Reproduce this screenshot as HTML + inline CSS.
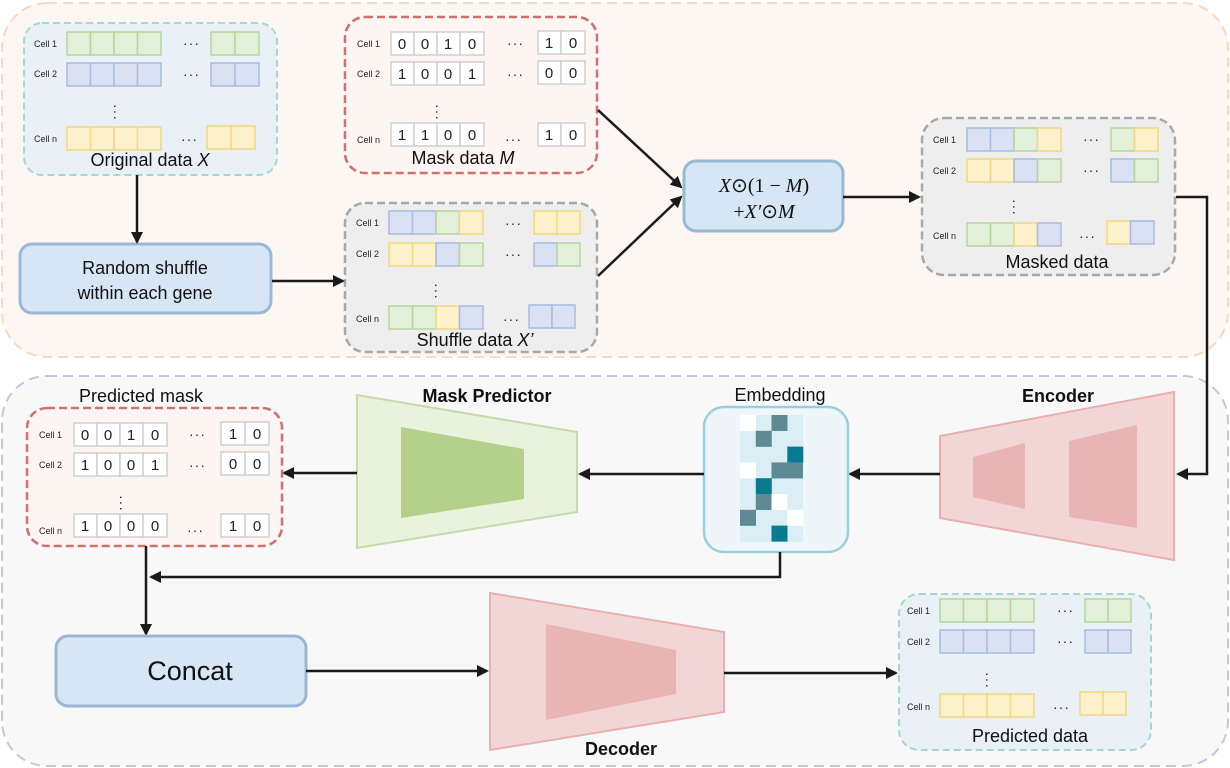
<!DOCTYPE html>
<html><head><meta charset="utf-8"><style>
html,body{margin:0;padding:0;background:#fff;}
svg{display:block;font-family:"Liberation Sans",sans-serif;}
.c{font-size:9px;fill:#222;}
.d{font-size:15px;fill:#222;text-anchor:middle;}
.l{font-size:18px;fill:#111;text-anchor:middle;}
.g rect{fill:#e2efd9;stroke:#b5d69a;stroke-width:1.5}
.b rect{fill:#d9e1f2;stroke:#a8bce0;stroke-width:1.5}
.y rect{fill:#fdf1cc;stroke:#f2d880;stroke-width:1.5}
.w rect{fill:#fff;stroke:#cfcfcf;stroke-width:1.5}
rect.G{fill:#e2efd9;stroke:#b5d69a;stroke-width:1.5}
rect.B{fill:#d9e1f2;stroke:#a8bce0;stroke-width:1.5}
rect.Y{fill:#fdf1cc;stroke:#f2d880;stroke-width:1.5}
.a{stroke:#1a1a1a;stroke-width:2.5;fill:none}
.dots{font-size:14px;fill:#222;letter-spacing:1px}
</style></head><body>
<svg width="1230" height="768" viewBox="0 0 1230 768">
<defs><marker id="ah" markerWidth="12" markerHeight="12" refX="10" refY="6" orient="auto" markerUnits="userSpaceOnUse"><path d="M0,0 L12,6 L0,12 Z" fill="#1a1a1a"/></marker></defs>
<rect x="2" y="3" width="1226" height="354" rx="45" fill="#fdf7f3" stroke="#f8d8c0" stroke-width="2" stroke-dasharray="10,6"/>
<rect x="2" y="376" width="1226" height="390" rx="45" fill="#f8f8f8" stroke="#c8c4dc" stroke-width="2" stroke-dasharray="10,6"/>

<rect x="24" y="23" width="253" height="152" rx="18" fill="#e9f1f6" stroke="#a6d8d0" stroke-width="2" stroke-dasharray="7,4"/>
<text class="c" x="34" y="47">Cell 1</text><text class="c" x="34" y="77">Cell 2</text><text class="c" x="34" y="142">Cell n</text>
<g class="g"><rect x="67" y="32" width="23.5" height="23"/><rect x="90.5" y="32" width="23.5" height="23"/><rect x="114" y="32" width="23.5" height="23"/><rect x="137.5" y="32" width="23.5" height="23"/><rect x="211" y="32" width="24" height="23"/><rect x="235" y="32" width="24" height="23"/></g>
<g class="b"><rect x="67" y="63" width="23.5" height="23"/><rect x="90.5" y="63" width="23.5" height="23"/><rect x="114" y="63" width="23.5" height="23"/><rect x="137.5" y="63" width="23.5" height="23"/><rect x="211" y="63" width="24" height="23"/><rect x="235" y="63" width="24" height="23"/></g>
<g class="y"><rect x="67" y="127" width="23.5" height="23"/><rect x="90.5" y="127" width="23.5" height="23"/><rect x="114" y="127" width="23.5" height="23"/><rect x="137.5" y="127" width="23.5" height="23"/><rect x="207" y="126" width="24" height="23"/><rect x="231" y="126" width="24" height="23"/></g>
<text class="dots" x="183" y="48">···</text><text class="dots" x="183" y="79">···</text><text class="dots" x="181" y="144">···</text>
<text class="dots" x="111" y="112" transform="rotate(90 115 108)">···</text>
<text class="l" x="150" y="166">Original data <tspan font-style="italic">X</tspan></text>

<rect x="345" y="17" width="252" height="156" rx="20" fill="#fdf5f2" stroke="#d07070" stroke-width="2.5" stroke-dasharray="8,4"/>
<text class="c" x="357" y="47">Cell 1</text><text class="c" x="357" y="77">Cell 2</text><text class="c" x="357" y="143">Cell n</text>
<g class="w"><rect x="391" y="32" width="23" height="23"/><rect x="414" y="32" width="23" height="23"/><rect x="437" y="32" width="23" height="23"/><rect x="460" y="32" width="24" height="23"/><rect x="538" y="31" width="23" height="23"/><rect x="561" y="31" width="24" height="23"/>
<rect x="391" y="62" width="23" height="23"/><rect x="414" y="62" width="23" height="23"/><rect x="437" y="62" width="23" height="23"/><rect x="460" y="62" width="24" height="23"/><rect x="538" y="61" width="23" height="23"/><rect x="561" y="61" width="24" height="23"/>
<rect x="391" y="123" width="23" height="23"/><rect x="414" y="123" width="23" height="23"/><rect x="437" y="123" width="23" height="23"/><rect x="460" y="123" width="24" height="23"/><rect x="538" y="123" width="23" height="23"/><rect x="561" y="123" width="24" height="23"/></g>
<text class="d" x="402" y="49">0</text><text class="d" x="425" y="49">0</text><text class="d" x="448" y="49">1</text><text class="d" x="472" y="49">0</text><text class="d" x="549" y="48">1</text><text class="d" x="573" y="48">0</text>
<text class="d" x="402" y="79">1</text><text class="d" x="425" y="79">0</text><text class="d" x="448" y="79">0</text><text class="d" x="472" y="79">1</text><text class="d" x="549" y="78">0</text><text class="d" x="573" y="78">0</text>
<text class="d" x="402" y="140">1</text><text class="d" x="425" y="140">1</text><text class="d" x="448" y="140">0</text><text class="d" x="472" y="140">0</text><text class="d" x="549" y="140">1</text><text class="d" x="573" y="140">0</text>
<text class="dots" x="507" y="48">···</text><text class="dots" x="507" y="79">···</text><text class="dots" x="505" y="144">···</text>
<text class="dots" x="433" y="112" transform="rotate(90 437 108)">···</text>
<text class="l" x="463" y="164">Mask data <tspan font-style="italic">M</tspan></text>

<rect x="345" y="203" width="252" height="149" rx="20" fill="#eeeeee" stroke="#a8a8a8" stroke-width="2.5" stroke-dasharray="8,4"/>
<text class="c" x="356" y="226">Cell 1</text><text class="c" x="356" y="257">Cell 2</text><text class="c" x="356" y="322">Cell n</text>
<rect class="B" x="389" y="211" width="23.5" height="23"/><rect class="B" x="412.5" y="211" width="23.5" height="23"/><rect class="G" x="436" y="211" width="23.5" height="23"/><rect class="Y" x="459.5" y="211" width="23.5" height="23"/><rect class="Y" x="534" y="211" width="23" height="23"/><rect class="Y" x="557" y="211" width="23" height="23"/>
<rect class="Y" x="389" y="243" width="23.5" height="23"/><rect class="Y" x="412.5" y="243" width="23.5" height="23"/><rect class="B" x="436" y="243" width="23.5" height="23"/><rect class="G" x="459.5" y="243" width="23.5" height="23"/><rect class="B" x="534" y="243" width="23" height="23"/><rect class="G" x="557" y="243" width="23" height="23"/>
<rect class="G" x="389" y="306" width="23.5" height="23"/><rect class="G" x="412.5" y="306" width="23.5" height="23"/><rect class="Y" x="436" y="306" width="23.5" height="23"/><rect class="B" x="459.5" y="306" width="23.5" height="23"/><rect class="B" x="529" y="305" width="23" height="23"/><rect class="B" x="552" y="305" width="23" height="23"/>
<text class="dots" x="505" y="228">···</text><text class="dots" x="505" y="259">···</text><text class="dots" x="503" y="324">···</text>
<text class="dots" x="432" y="291" transform="rotate(90 436 287)">···</text>
<text class="l" x="475" y="346">Shuffle data <tspan font-style="italic">X’</tspan></text>

<rect x="20" y="244" width="251" height="69" rx="12" fill="#d6e6f4" stroke="#9ab8d6" stroke-width="3"/>
<text class="l" x="145" y="274">Random shuffle</text><text class="l" x="145" y="299">within each gene</text>
<line class="a" x1="137" y1="175" x2="137" y2="242" marker-end="url(#ah)"/>
<line class="a" x1="272" y1="281" x2="343" y2="281" marker-end="url(#ah)"/>
<line class="a" x1="598" y1="110" x2="681" y2="187" marker-end="url(#ah)"/>
<line class="a" x1="598" y1="276" x2="681" y2="197" marker-end="url(#ah)"/>

<rect x="684" y="161" width="159" height="70" rx="12" fill="#d6e6f4" stroke="#9ab8d6" stroke-width="3"/>
<text x="764" y="192" text-anchor="middle" font-family="Liberation Serif,serif" font-size="20" fill="#111"><tspan font-style="italic">X</tspan>⊙(1 − <tspan font-style="italic">M</tspan>)</text>
<text x="764" y="218" text-anchor="middle" font-family="Liberation Serif,serif" font-size="20" fill="#111">+<tspan font-style="italic">X′</tspan>⊙<tspan font-style="italic">M</tspan></text>
<line class="a" x1="843" y1="197" x2="919" y2="197" marker-end="url(#ah)"/>

<rect x="922" y="118" width="253" height="157" rx="22" fill="#eeeeee" stroke="#a8a8a8" stroke-width="2.5" stroke-dasharray="8,4"/>
<text class="c" x="933" y="143">Cell 1</text><text class="c" x="933" y="174">Cell 2</text><text class="c" x="933" y="239">Cell n</text>
<rect class="B" x="967" y="128" width="23.5" height="23"/><rect class="B" x="990.5" y="128" width="23.5" height="23"/><rect class="G" x="1014" y="128" width="23.5" height="23"/><rect class="Y" x="1037.5" y="128" width="23.5" height="23"/><rect class="G" x="1111" y="128" width="23.5" height="23"/><rect class="Y" x="1134.5" y="128" width="23.5" height="23"/>
<rect class="Y" x="967" y="159" width="23.5" height="23"/><rect class="Y" x="990.5" y="159" width="23.5" height="23"/><rect class="B" x="1014" y="159" width="23.5" height="23"/><rect class="G" x="1037.5" y="159" width="23.5" height="23"/><rect class="B" x="1111" y="159" width="23.5" height="23"/><rect class="G" x="1134.5" y="159" width="23.5" height="23"/>
<rect class="G" x="967" y="223" width="23.5" height="23"/><rect class="G" x="990.5" y="223" width="23.5" height="23"/><rect class="Y" x="1014" y="223" width="23.5" height="23"/><rect class="B" x="1037.5" y="223" width="23.5" height="23"/><rect class="Y" x="1107" y="221" width="23.5" height="23"/><rect class="B" x="1130.5" y="221" width="23.5" height="23"/>
<text class="dots" x="1083" y="144">···</text><text class="dots" x="1083" y="175">···</text><text class="dots" x="1079" y="241">···</text>
<text class="dots" x="1010" y="207" transform="rotate(90 1014 203)">···</text>
<text class="l" x="1057" y="268">Masked data</text>
<polyline class="a" points="1176,197 1207,197 1207,474 1178,474" marker-end="url(#ah)"/>

<polygon points="940,436 1174,392 1174,560 940,518" fill="#f2d6d6" stroke="#eab0b0" stroke-width="2"/>
<polygon points="973,457 1025,443 1025,509 973,497" fill="#e8b4b4"/>
<polygon points="1069,441 1137,425 1137,528 1069,517" fill="#e8b4b4"/>
<text x="1058" y="402" text-anchor="middle" font-weight="bold" font-size="18" fill="#111">Encoder</text>
<line class="a" x1="940" y1="474" x2="850" y2="474" marker-end="url(#ah)"/>

<rect x="704" y="407" width="144" height="145" rx="20" fill="#eef6fa" stroke="#9ad0dc" stroke-width="2.5"/>
<rect x="740" y="415" width="63" height="127" fill="#dbeef6"/>
<g>
<rect x="740" y="415" width="16" height="16" fill="#fff"/><rect x="771.5" y="415" width="16" height="16" fill="#5e8a94"/>
<rect x="755.8" y="430.8" width="16" height="16" fill="#5e8a94"/>
<rect x="787.3" y="446.6" width="16" height="16" fill="#0a7a90"/>
<rect x="740" y="462.4" width="16" height="16" fill="#fff"/><rect x="771.5" y="462.4" width="31.5" height="16" fill="#5e8a94"/>
<rect x="755.8" y="478.2" width="16" height="16" fill="#0a7a90"/>
<rect x="755.8" y="494" width="16" height="16" fill="#5e8a94"/><rect x="771.5" y="494" width="16" height="16" fill="#fff"/>
<rect x="740" y="509.8" width="16" height="16" fill="#5e8a94"/><rect x="787.3" y="509.8" width="16" height="16" fill="#fff"/>
<rect x="771.5" y="525.6" width="16" height="16" fill="#0a7a90"/>
</g>
<text x="780" y="401" text-anchor="middle" font-size="18" fill="#111">Embedding</text>
<line class="a" x1="704" y1="474" x2="580" y2="474" marker-end="url(#ah)"/>

<polygon points="357,395 577,432 577,512 357,548" fill="#e8f2dc" stroke="#c6dba8" stroke-width="2"/>
<polygon points="401,427 524,449 524,499 401,518" fill="#b5d08a"/>
<text x="487" y="402" text-anchor="middle" font-weight="bold" font-size="18" fill="#111">Mask Predictor</text>
<line class="a" x1="357" y1="473" x2="284" y2="473" marker-end="url(#ah)"/>

<rect x="27" y="408" width="255" height="138" rx="20" fill="#fdf5f2" stroke="#d07070" stroke-width="2.5" stroke-dasharray="8,4"/>
<text x="141" y="402" text-anchor="middle" font-size="18" fill="#111">Predicted mask</text>
<text class="c" x="39" y="438">Cell 1</text><text class="c" x="39" y="468">Cell 2</text><text class="c" x="39" y="534">Cell n</text>
<g class="w"><rect x="74" y="423" width="23" height="23"/><rect x="97" y="423" width="23" height="23"/><rect x="120" y="423" width="23" height="23"/><rect x="143" y="423" width="24" height="23"/><rect x="221" y="422" width="24" height="23"/><rect x="245" y="422" width="24" height="23"/>
<rect x="74" y="453" width="23" height="23"/><rect x="97" y="453" width="23" height="23"/><rect x="120" y="453" width="23" height="23"/><rect x="143" y="453" width="24" height="23"/><rect x="221" y="452" width="24" height="23"/><rect x="245" y="452" width="24" height="23"/>
<rect x="74" y="514" width="23" height="23"/><rect x="97" y="514" width="23" height="23"/><rect x="120" y="514" width="23" height="23"/><rect x="143" y="514" width="24" height="23"/><rect x="221" y="514" width="24" height="23"/><rect x="245" y="514" width="24" height="23"/></g>
<text class="d" x="85" y="440">0</text><text class="d" x="108" y="440">0</text><text class="d" x="131" y="440">1</text><text class="d" x="155" y="440">0</text><text class="d" x="233" y="439">1</text><text class="d" x="257" y="439">0</text>
<text class="d" x="85" y="470">1</text><text class="d" x="108" y="470">0</text><text class="d" x="131" y="470">0</text><text class="d" x="155" y="470">1</text><text class="d" x="233" y="469">0</text><text class="d" x="257" y="469">0</text>
<text class="d" x="85" y="531">1</text><text class="d" x="108" y="531">0</text><text class="d" x="131" y="531">0</text><text class="d" x="155" y="531">0</text><text class="d" x="233" y="531">1</text><text class="d" x="257" y="531">0</text>
<text class="dots" x="189" y="439">···</text><text class="dots" x="189" y="470">···</text><text class="dots" x="187" y="535">···</text>
<text class="dots" x="117" y="503" transform="rotate(90 121 499)">···</text>

<polyline class="a" points="780,552 780,577 151,577" marker-end="url(#ah)"/>
<line class="a" x1="146" y1="546" x2="146" y2="634" marker-end="url(#ah)"/>
<rect x="56" y="636" width="250" height="70" rx="12" fill="#d6e6f4" stroke="#9ab8d6" stroke-width="3"/>
<text x="190" y="680" text-anchor="middle" font-size="27" fill="#111">Concat</text>
<line class="a" x1="306" y1="671" x2="487" y2="671" marker-end="url(#ah)"/>

<polygon points="490,593 724,632 724,712 490,750" fill="#f2d6d6" stroke="#eab0b0" stroke-width="2"/>
<polygon points="546,624 676,650 676,694 546,720" fill="#e8b4b4"/>
<text x="621" y="755" text-anchor="middle" font-weight="bold" font-size="18" fill="#111">Decoder</text>
<line class="a" x1="724" y1="673" x2="896" y2="673" marker-end="url(#ah)"/>

<rect x="899" y="594" width="252" height="156" rx="20" fill="#e9f1f6" stroke="#a6d8d0" stroke-width="2" stroke-dasharray="7,4"/>
<text class="c" x="907" y="614">Cell 1</text><text class="c" x="907" y="645">Cell 2</text><text class="c" x="907" y="710">Cell n</text>
<g class="g"><rect x="940" y="599" width="23.5" height="23"/><rect x="963.5" y="599" width="23.5" height="23"/><rect x="987" y="599" width="23.5" height="23"/><rect x="1010.5" y="599" width="23.5" height="23"/><rect x="1085" y="599" width="23" height="23"/><rect x="1108" y="599" width="23" height="23"/></g>
<g class="b"><rect x="940" y="630" width="23.5" height="23"/><rect x="963.5" y="630" width="23.5" height="23"/><rect x="987" y="630" width="23.5" height="23"/><rect x="1010.5" y="630" width="23.5" height="23"/><rect x="1085" y="630" width="23" height="23"/><rect x="1108" y="630" width="23" height="23"/></g>
<g class="y"><rect x="940" y="694" width="23.5" height="23"/><rect x="963.5" y="694" width="23.5" height="23"/><rect x="987" y="694" width="23.5" height="23"/><rect x="1010.5" y="694" width="23.5" height="23"/><rect x="1080" y="692" width="23" height="23"/><rect x="1103" y="692" width="23" height="23"/></g>
<text class="dots" x="1057" y="615">···</text><text class="dots" x="1057" y="646">···</text><text class="dots" x="1053" y="712">···</text>
<text class="dots" x="983" y="680" transform="rotate(90 987 676)">···</text>
<text class="l" x="1030" y="742">Predicted data</text>
</svg>
</body></html>
